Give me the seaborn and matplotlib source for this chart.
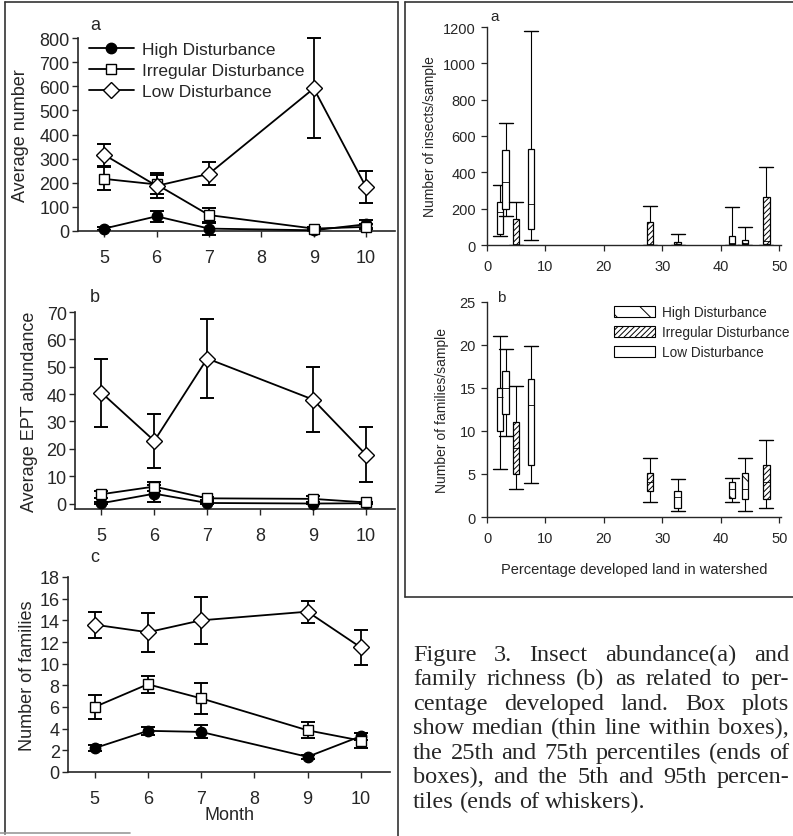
import numpy as np
import pandas as pd
import matplotlib
matplotlib.use("Agg")
import matplotlib.pyplot as plt
import seaborn as sns
from matplotlib.patches import Patch
from matplotlib.lines import Line2D

# ---------------- data ----------------
months = [5, 6, 7, 9, 10]
groups = ["High Disturbance", "Irregular Disturbance", "Low Disturbance"]

abund_high = [10, 61, 10, 3, 28]
abund_high_err = [6, 23, 25, 4, 17]
abund_irr = [216, 193, 66, 10, 17]
abund_irr_err = [48, 38, 30, 6, 10]
abund_low = [316, 187, 237, 591, 181]
abund_low_err = [46, 52, 47, 207, 67]

ept_high = [0.1, 3.6, 0.2, 0.0, 0.1]
ept_high_err = [0.3, 3.0, 0.3, 0.3, 0.3]
ept_irr = [3.4, 6.2, 1.9, 1.7, 0.4]
ept_irr_err = [1.2, 1.5, 0.5, 1.0, 0.3]
ept_low = [40.5, 22.9, 53.0, 38.0, 17.9]
ept_low_err = [12.4, 10.0, 14.3, 12.0, 10.0]

fam_high = [2.2, 3.8, 3.7, 1.4, 3.3]
fam_high_err = [0.3, 0.4, 0.6, 0.2, 0.3]
fam_irr = [6.0, 8.1, 6.8, 3.85, 2.9]
fam_irr_err = [1.1, 0.8, 1.45, 0.75, 0.7]
fam_low = [13.6, 12.9, 14.0, 14.8, 11.5]
fam_low_err = [1.2, 1.8, 2.2, 1.0, 1.6]

box_pos = [2.2, 3.2, 5.0, 7.5, 27.9, 32.6, 41.9, 44.1, 47.8]
box_group = ["Low", "Low", "Irregular", "Low", "Irregular", "High", "High", "High", "Irregular"]

ins_whislo = [52, 157, 0, 28, 0, 0, 0, 0, 0]
ins_q1 = [62, 200, 0, 88, 0, 3, 3, 5, 5]
ins_med = [183, 348, 8, 226, 5, 8, 10, 12, 20]
ins_q3 = [235, 522, 143, 528, 125, 15, 52, 25, 265]
ins_whishi = [330, 670, 237, 1180, 213, 60, 207, 100, 432]

famb_whislo = [5.6, 9.4, 3.2, 4.0, 1.7, 0.7, 1.7, 0.7, 1.1]
famb_q1 = [10, 12, 5, 6.1, 3.05, 1.1, 2.2, 2.1, 2.1]
famb_med = [14, 15, 8, 13, 4.05, 2.3, 3.2, 3.3, 4.1]
famb_q3 = [15, 17, 11, 16, 5.1, 3.05, 4.1, 5.1, 6.1]
famb_whishi = [21, 19.5, 15.2, 19.9, 6.9, 4.45, 4.55, 6.9, 8.9]

caption_lines = [
    "Figure 3. Insect abundance(a) and",
    "family richness (b) as related to per-",
    "centage developed land. Box plots",
    "show median (thin line within boxes),",
    "the 25th and 75th percentiles (ends of",
    "boxes), and the 5th and 95th percen-",
    "tiles (ends of whiskers).",
]

# ---------------- style ----------------
sns.set_style("ticks")
plt.rcParams["font.family"] = ["Liberation Sans", "DejaVu Sans"]
plt.rcParams["hatch.linewidth"] = 0.7
plt.rcParams["hatch.color"] = "black"

W, H = 793, 837
fig = plt.figure(figsize=(W / 100, H / 100), dpi=100)
fig.patch.set_facecolor("white")


def add_ax(x0, y0, x1, y1):
    return fig.add_axes([x0 / W, 1 - y1 / H, (x1 - x0) / W, (y1 - y0) / H])


def ylabel_at(ax, text, xcenter_px, size):
    ax.set_ylabel(text, fontsize=size)
    bb = ax.get_position()
    ax_left = bb.x0 * W
    ax_w = bb.width * W
    xr = xcenter_px + size * 100 / 72 * 0.5
    ax.yaxis.set_label_coords((xr - ax_left) / ax_w, 0.5)


HATCH = {"High": "\\", "Irregular": "//////", "Low": ""}

# ---------------- left line panels ----------------
STYLES = [("o", "black", 7.5), ("s", "white", 7), ("D", "white", 8)]


def line_panel(ax, series, ylim, yticks):
    for (vals, errs), label, (mk, fc, ms) in zip(series, groups, STYLES):
        ax.errorbar(months, vals, yerr=errs, fmt="none", ecolor="black",
                    elinewidth=1.3, capsize=5, capthick=1.4, zorder=2, clip_on=False)
        sns.lineplot(x=months, y=vals, ax=ax, color="black", lw=1.3, marker=mk,
                     markersize=ms, markerfacecolor=fc, markeredgecolor="black",
                     markeredgewidth=1.0, label=label, zorder=3, clip_on=False)
    if ax.get_legend() is not None:
        ax.get_legend().remove()
    ax.set_xlim(4.5, 10.55)
    ax.set_ylim(*ylim)
    ax.set_xticks([5, 6, 7, 8, 9, 10])
    ax.set_yticks(yticks)
    ax.tick_params(axis="x", labelsize=13, length=4, width=1, pad=9, direction="out")
    ax.tick_params(axis="y", labelsize=13, length=4, width=1, pad=2, direction="out")
    sns.despine(ax=ax)
    for s in ["left", "bottom"]:
        ax.spines[s].set_linewidth(1.2)
    ax.set_xlabel("")


axA = add_ax(78, 39, 395, 232)
line_panel(axA, [(abund_high, abund_high_err), (abund_irr, abund_irr_err), (abund_low, abund_low_err)],
           (0, 800), range(0, 801, 100))
ylabel_at(axA, "Average number", 20, 13)
handles = [Line2D([], [], color="black", lw=1.3, marker=m, markersize=s, markerfacecolor=f,
                  markeredgecolor="black") for m, f, s in STYLES]
axA.legend(handles, groups, loc="upper left", bbox_to_anchor=(-0.005, 1.045), frameon=False,
           fontsize=12.5, handlelength=2.6, labelspacing=0.35, handletextpad=0.45, borderpad=0.2)
fig.text(90 / W, 1 - 25 / H, "a", fontsize=13, va="center", ha="left")

axB = add_ax(75, 313, 395, 510)
line_panel(axB, [(ept_high, ept_high_err), (ept_irr, ept_irr_err), (ept_low, ept_low_err)],
           (-2, 70), range(0, 71, 10))
ylabel_at(axB, "Average EPT abundance", 29, 13)
fig.text(90 / W, 1 - 298 / H, "b", fontsize=13, va="center", ha="left")

axC = add_ax(68, 578, 390, 773)
line_panel(axC, [(fam_high, fam_high_err), (fam_irr, fam_irr_err), (fam_low, fam_low_err)],
           (0, 18), range(0, 19, 2))
ylabel_at(axC, "Number of families", 27, 13)
axC.set_xlabel("Month", fontsize=13, labelpad=-1)
fig.text(90 / W, 1 - 557 / H, "c", fontsize=13, va="center", ha="left")

# ---------------- right box panels ----------------
def box_panel(ax, whislo, q1, med, q3, whishi, ylim, yticks):
    stats = [dict(whislo=a, q1=b, med=c, q3=d, whishi=e, fliers=[])
             for a, b, c, d, e in zip(whislo, q1, med, q3, whishi)]
    bp = ax.bxp(stats, positions=box_pos, widths=1.1, capwidths=2.4, patch_artist=True,
                showfliers=False, manage_ticks=False,
                boxprops=dict(facecolor="white", edgecolor="black", linewidth=0.9),
                whiskerprops=dict(color="black", linewidth=0.8),
                capprops=dict(color="black", linewidth=1.0),
                medianprops=dict(color="black", linewidth=0.6))
    for patch, g in zip(bp["boxes"], box_group):
        patch.set_hatch(HATCH[g])
    ax.set_xlim(0, 50.3)
    ax.set_ylim(*ylim)
    ax.set_xticks(range(0, 51, 10))
    ax.set_yticks(yticks)
    ax.tick_params(axis="x", labelsize=10.5, length=4, width=0.9, pad=6)
    ax.tick_params(axis="y", labelsize=10.5, length=4, width=0.9, pad=4)
    sns.despine(ax=ax)
    for s in ["left", "bottom"]:
        ax.spines[s].set_linewidth(1.0)


axR1 = add_ax(487, 28, 781, 246)
box_panel(axR1, ins_whislo, ins_q1, ins_med, ins_q3, ins_whishi, (0, 1200), range(0, 1201, 200))
ylabel_at(axR1, "Number of insects/sample", 430, 10)
fig.text(490 / W, 1 - 17 / H, "a", fontsize=11, va="center", ha="left")

axR2 = add_ax(487, 303, 781, 518)
box_panel(axR2, famb_whislo, famb_q1, famb_med, famb_q3, famb_whishi, (0, 25), range(0, 26, 5))
ylabel_at(axR2, "Number of families/sample", 442, 10)
axR2.set_xlabel("Percentage developed land in watershed", fontsize=10.5, labelpad=12)
fig.text(497 / W, 1 - 298 / H, "b", fontsize=11, va="center", ha="left")
leg_handles = [Patch(facecolor="white", edgecolor="black", linewidth=0.8, hatch=HATCH[g])
               for g in ["High", "Irregular", "Low"]]
axR2.legend(leg_handles, groups, loc="upper left", bbox_to_anchor=(0.4, 1.03), frameon=False,
            fontsize=9.8, handlelength=3.0, handleheight=0.9, labelspacing=0.45,
            handletextpad=0.5, borderpad=0.2)

# ---------------- frames ----------------
def fline(x0, y0, x1, y1, lw=1.2, color="#333333"):
    fig.add_artist(Line2D([x0 / W, x1 / W], [1 - y0 / H, 1 - y1 / H], transform=fig.transFigure,
                          color=color, lw=lw))

fline(5, 3, 398, 3)
fline(5, 3, 5, 835)
fline(398, 3, 398, 837)
fline(0, 834, 130, 834, color="#999999")
fline(405, 3, 795, 3)
fline(405, 3, 405, 598)
fline(405, 598, 795, 598)

# ---------------- caption (justified) ----------------
fig.canvas.draw()
renderer = fig.canvas.get_renderer()
CAP_SIZE = 17.5
cap_kw = dict(fontsize=CAP_SIZE, family=["Liberation Serif", "DejaVu Serif"], va="baseline", ha="left")
x_left, x_right = 413, 789
y0, dy = 661, 24.5
space_w = CAP_SIZE * 100 / 72 * 0.25
for i, line in enumerate(caption_lines):
    words = line.split()
    texts = [fig.text(0, 0, w, **cap_kw) for w in words]
    widths = [t.get_window_extent(renderer).width for t in texts]
    if i == len(caption_lines) - 1:
        gap = space_w
    else:
        gap = max((x_right - x_left - sum(widths)) / (len(words) - 1), 3.0)
    x = x_left
    yb = y0 + i * dy
    for t, w in zip(texts, widths):
        t.set_position((x / W, 1 - yb / H))
        x += w + gap

fig.savefig("out.png", dpi=100, facecolor="white")
